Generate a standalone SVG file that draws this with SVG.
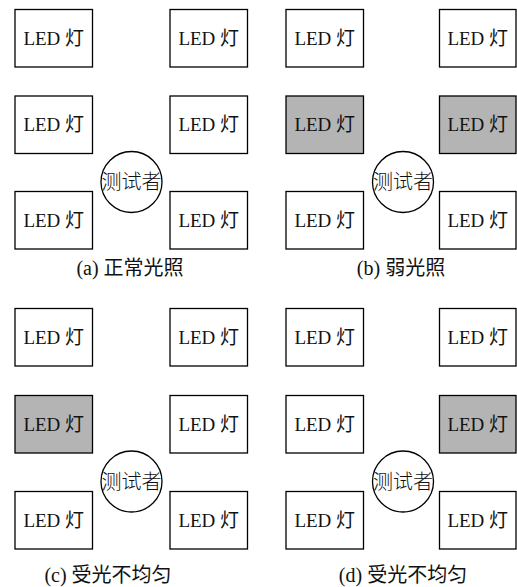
<svg xmlns="http://www.w3.org/2000/svg" width="517" height="587" viewBox="0 0 517 587">
<style>
.box{fill:#ffffff;stroke:#000;stroke-width:1.3}
.dim{fill:#b4b4b4}
.p{fill:#ffffff;stroke:#000;stroke-width:1.3}
text{font-family:"Liberation Serif","Noto Sans CJK SC",serif;font-size:19px;fill:#111;text-anchor:middle}
.t{font-family:"Noto Sans CJK SC",sans-serif;font-size:20px;font-weight:300}
.c{font-size:20px}
</style>
<rect width="517" height="587" fill="#fff"/>
<g id="panel-a">
<g id="a-l1"><rect class="box" x="15" y="9.5" width="77.5" height="57.5"/><text x="53.75" y="44.5">LED 灯</text></g>
<g id="a-r1"><rect class="box" x="170" y="9.5" width="77.5" height="57.5"/><text x="208.75" y="44.5">LED 灯</text></g>
<g id="a-l2"><rect class="box" x="15" y="96" width="77.5" height="57.5"/><text x="53.75" y="131">LED 灯</text></g>
<g id="a-r2"><rect class="box" x="170" y="96" width="77.5" height="57.5"/><text x="208.75" y="131">LED 灯</text></g>
<g id="a-l3"><rect class="box" x="15" y="191.5" width="77.5" height="57.5"/><text x="53.75" y="226.5">LED 灯</text></g>
<g id="a-r3"><rect class="box" x="170" y="191.5" width="77.5" height="57.5"/><text x="208.75" y="226.5">LED 灯</text></g>
<g id="a-p"><circle class="p" cx="131.5" cy="182" r="30.5"/><text class="t" x="131.5" y="189">测试者</text></g>
<text id="a-cap" class="c" x="130" y="275">(a) 正常光照</text>
</g>
<g id="panel-b">
<g id="b-l1"><rect class="box" x="286" y="9.5" width="77.5" height="57.5"/><text x="324.75" y="44.5">LED 灯</text></g>
<g id="b-r1"><rect class="box" x="439.5" y="9.5" width="76.5" height="57.5"/><text x="477.75" y="44.5">LED 灯</text></g>
<g id="b-l2"><rect class="box dim" x="286" y="96" width="77.5" height="57.5"/><text x="324.75" y="131">LED 灯</text></g>
<g id="b-r2"><rect class="box dim" x="439.5" y="96" width="76.5" height="57.5"/><text x="477.75" y="131">LED 灯</text></g>
<g id="b-l3"><rect class="box" x="286" y="191.5" width="77.5" height="57.5"/><text x="324.75" y="226.5">LED 灯</text></g>
<g id="b-r3"><rect class="box" x="439.5" y="191.5" width="76.5" height="57.5"/><text x="477.75" y="226.5">LED 灯</text></g>
<g id="b-p"><circle class="p" cx="403" cy="182" r="30.5"/><text class="t" x="403" y="189">测试者</text></g>
<text id="b-cap" class="c" x="401" y="275">(b) 弱光照</text>
</g>
<g id="panel-c">
<g id="c-l1"><rect class="box" x="15" y="308.5" width="77.5" height="57.5"/><text x="53.75" y="343.5">LED 灯</text></g>
<g id="c-r1"><rect class="box" x="170" y="308.5" width="77.5" height="57.5"/><text x="208.75" y="343.5">LED 灯</text></g>
<g id="c-l2"><rect class="box dim" x="15" y="395.5" width="77.5" height="57.5"/><text x="53.75" y="430.5">LED 灯</text></g>
<g id="c-r2"><rect class="box" x="170" y="395.5" width="77.5" height="57.5"/><text x="208.75" y="430.5">LED 灯</text></g>
<g id="c-l3"><rect class="box" x="15" y="491.5" width="77.5" height="57.5"/><text x="53.75" y="526.5">LED 灯</text></g>
<g id="c-r3"><rect class="box" x="170" y="491.5" width="77.5" height="57.5"/><text x="208.75" y="526.5">LED 灯</text></g>
<g id="c-p"><circle class="p" cx="131.5" cy="481.5" r="30.5"/><text class="t" x="131.5" y="488.5">测试者</text></g>
<text id="c-cap" class="c" x="108" y="582">(c) 受光不均匀</text>
</g>
<g id="panel-d">
<g id="d-l1"><rect class="box" x="286" y="308.5" width="77.5" height="57.5"/><text x="324.75" y="343.5">LED 灯</text></g>
<g id="d-r1"><rect class="box" x="439.5" y="308.5" width="76.5" height="57.5"/><text x="477.75" y="343.5">LED 灯</text></g>
<g id="d-l2"><rect class="box" x="286" y="395.5" width="77.5" height="57.5"/><text x="324.75" y="430.5">LED 灯</text></g>
<g id="d-r2"><rect class="box dim" x="439.5" y="395.5" width="76.5" height="57.5"/><text x="477.75" y="430.5">LED 灯</text></g>
<g id="d-l3"><rect class="box" x="286" y="491.5" width="77.5" height="57.5"/><text x="324.75" y="526.5">LED 灯</text></g>
<g id="d-r3"><rect class="box" x="439.5" y="491.5" width="76.5" height="57.5"/><text x="477.75" y="526.5">LED 灯</text></g>
<g id="d-p"><circle class="p" cx="403" cy="481.5" r="30.5"/><text class="t" x="403" y="488.5">测试者</text></g>
<text id="d-cap" class="c" x="403" y="582">(d) 受光不均匀</text>
</g>
<g id="connectors"/>
</svg>
